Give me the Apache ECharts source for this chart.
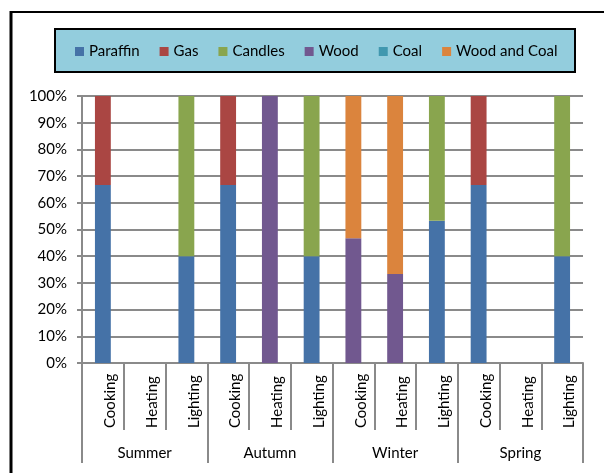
<!DOCTYPE html>
<html>
<head>
<meta charset="utf-8">
<script src="https://cdn.jsdelivr.net/npm/echarts@6/dist/echarts.min.js"></script>
<style>
  html, body { margin: 0; padding: 0; background: #fff; }
  #chart { width: 604px; height: 473px; }
</style>
</head>
<body>
<div id="chart"></div>
<script>
// Energy source share by use and season
const seasons = ['Summer', 'Autumn', 'Winter', 'Spring'];
const uses = ['Cooking', 'Heating', 'Lighting'];
const yTicks = [0, 10, 20, 30, 40, 50, 60, 70, 80, 90, 100];

const paraffin    = [66.7, 0, 40,   66.7, 0,   40,   0,    0,    53.3, 66.7, 0, 40];
const gas         = [33.3, 0, 0,    33.3, 0,   0,    0,    0,    0,    33.3, 0, 0];
const candles     = [0,    0, 60,   0,    0,   60,   0,    0,    46.7, 0,    0, 60];
const wood        = [0,    0, 0,    0,    100, 0,    46.7, 33.3, 0,    0,    0, 0];
const coal        = [0,    0, 0,    0,    0,   0,    0,    0,    0,    0,    0, 0];
const woodAndCoal = [0,    0, 0,    0,    0,   0,    53.3, 66.7, 0,    0,    0, 0];

const seriesDefs = [
  { name: 'Paraffin', data: paraffin, color: '#4572A7' },
  { name: 'Gas', data: gas, color: '#AA4643' },
  { name: 'Candles', data: candles, color: '#89A54E' },
  { name: 'Wood', data: wood, color: '#71588F' },
  { name: 'Coal', data: coal, color: '#4198AF' },
  { name: 'Wood and Coal', data: woodAndCoal, color: '#DB843D' }
];

const categories = [];
seasons.forEach(() => uses.forEach(u => categories.push(u)));

const FONT = 'Lato';
const FONT_SIZE = 15;
const GRID_COLOR = '#8a8a8a';

const chart = echarts.init(document.getElementById('chart'), null, { renderer: 'canvas' });

chart.setOption({
  animation: false,
  textStyle: { fontFamily: FONT, color: '#000' },
  graphic: [
    // outer frame
    { type: 'line', shape: { x1: 11, y1: 12, x2: 604, y2: 12 }, style: { stroke: '#000', lineWidth: 2 }, z: 100 },
    { type: 'line', shape: { x1: 11, y1: 11, x2: 11, y2: 473 }, style: { stroke: '#000', lineWidth: 3 }, z: 100 },
    // legend panel
    { type: 'rect', shape: { x: 55, y: 29, width: 520, height: 43 },
      style: { fill: '#93CDDD', stroke: '#000', lineWidth: 2 }, z: -1 }
  ],
  legend: {
    top: 39,
    left: 70,
    itemWidth: 9,
    itemHeight: 9,
    itemGap: 20,
    icon: 'rect',
    textStyle: { fontFamily: FONT, fontSize: FONT_SIZE, color: '#000' },
    data: seriesDefs.map(s => s.name)
  },
  grid: { left: 82, right: 21, top: 96, bottom: 110, containLabel: false },
  xAxis: [
    {
      type: 'category',
      data: categories,
      position: 'bottom',
      axisLine: { show: true, lineStyle: { color: GRID_COLOR, width: 2 } },
      axisTick: { show: true, length: 67, lineStyle: { color: GRID_COLOR, width: 2 } },
      axisLabel: {
        rotate: 90,
        interval: 0,
        margin: 65,
        align: 'left',
        verticalAlign: 'top',
        fontFamily: FONT,
        fontSize: FONT_SIZE,
        color: '#000'
      }
    },
    {
      type: 'category',
      data: seasons,
      position: 'bottom',
      axisLine: { show: false },
      axisTick: { show: true, length: 100, lineStyle: { color: GRID_COLOR, width: 2 } },
      axisLabel: { interval: 0, margin: 83, fontFamily: FONT, fontSize: FONT_SIZE, color: '#000' },
      splitLine: { show: false }
    }
  ],
  yAxis: {
    type: 'value',
    min: yTicks[0],
    max: yTicks[yTicks.length - 1],
    interval: yTicks[1] - yTicks[0],
    axisLine: { show: true, lineStyle: { color: GRID_COLOR, width: 2 } },
    axisTick: { show: true, length: 5, lineStyle: { color: GRID_COLOR, width: 2 } },
    axisLabel: { margin: 15, fontFamily: FONT, fontSize: FONT_SIZE, color: '#000', formatter: '{value}%' },
    splitLine: { show: true, lineStyle: { color: GRID_COLOR, width: 2 } }
  },
  series: seriesDefs.map(s => ({
    name: s.name,
    type: 'bar',
    stack: 'share',
    xAxisIndex: 0,
    barWidth: '38%',
    itemStyle: { color: s.color },
    data: s.data
  }))
});
</script>
</body>
</html>
